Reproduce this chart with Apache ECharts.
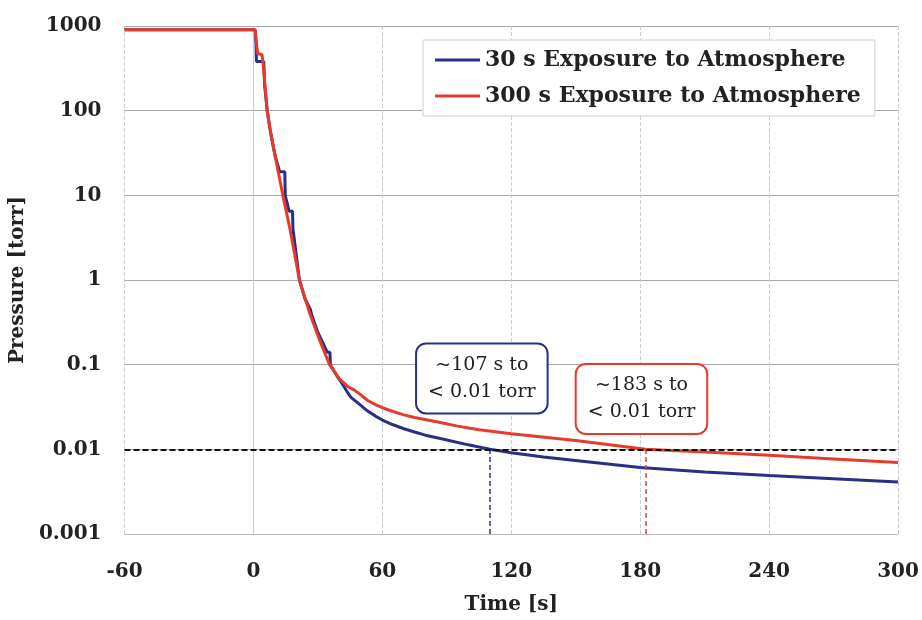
<!DOCTYPE html>
<html>
<head>
<meta charset="utf-8">
<script src="https://cdn.jsdelivr.net/npm/echarts@6/dist/echarts.min.js"></script>
<style>
  html, body { margin: 0; padding: 0; background: #fff; }
  #chart { width: 922px; height: 620px; }
</style>
</head>
<body>
<div id="chart"></div>
<script>
// Pump-down curves (time in s, pressure in torr)
const blueTime = [-60, 0.8, 1.2, 1.4, 4.8, 5.2, 6.4, 8, 10, 12.2, 13.0, 14.6, 14.8, 16.6, 18.2, 18.4, 21.4, 24, 26.5, 27.2, 30,
  34.4, 35.6, 35.8, 38, 42.2, 43.8, 45.4, 50, 53, 57, 60, 65, 70, 75, 80, 87, 100, 110, 120, 135, 152, 180, 210, 240, 270, 300];
const bluePressure = [900, 900, 600, 380, 380, 200, 100, 55, 30, 19, 19, 19, 10, 6.5, 6.5, 4, 1, 0.6, 0.45, 0.38, 0.24,
  0.14, 0.14, 0.1, 0.08, 0.055, 0.047, 0.041, 0.033, 0.0285, 0.0245, 0.0222, 0.0195, 0.0175, 0.016, 0.0147, 0.0134,
  0.0113, 0.0100, 0.0091, 0.0081, 0.0073, 0.0061, 0.0054, 0.0049, 0.0045, 0.0041];

const redTime = [-60, 0.8, 1.5, 2.0, 4.0, 4.8, 6.4, 8, 10, 13.7, 17, 21.4, 26, 30, 35.4, 40, 44, 47, 50, 53, 57, 60, 65,
  70, 75, 87, 95, 105, 120, 150, 182.5, 210, 240, 270, 300];
const redPressure = [900, 900, 600, 470, 460, 300, 100, 55, 30, 10, 4, 1, 0.42, 0.22, 0.1, 0.068, 0.055, 0.05, 0.044,
  0.038, 0.0335, 0.031, 0.028, 0.0255, 0.0238, 0.0207, 0.0188, 0.0170, 0.0153, 0.0127, 0.0100, 0.0093, 0.0085, 0.0077,
  0.0070];

const seriesNames = ['30 s Exposure to Atmosphere', '300 s Exposure to Atmosphere'];
const xTicks = [-60, 300, 60]; // min, max, interval
const yRange = [0.001, 1000];

const threshold = 0.01;
const blueCross = 110;
const redCross = 182.5;

// annotation boxes: [time, pressure] anchor + text lines
const blueNote = { at: [106.3, 0.0687], lines: ['~107 s to', '< 0.01 torr'] };
const redNote = { at: [180.6, 0.0394], lines: ['~183 s to', '< 0.01 torr'] };

const BLUE = '#2b2e85';
const RED = '#e63b2c';
const SERIF = '"DejaVu Serif", "Liberation Serif", serif';

const zip = (xs, ys) => xs.map((x, i) => [x, ys[i]]);

function noteLabel(note, color) {
  return {
    coord: note.at,
    symbol: 'rect',
    symbolSize: 1,
    itemStyle: { color: 'rgba(0,0,0,0)' },
    label: {
      show: true,
      position: 'inside',
      formatter: note.lines.join('\n'),
      fontFamily: SERIF,
      fontSize: 19,
      lineHeight: 27,
      color: '#222',
      backgroundColor: '#fff',
      borderColor: color,
      borderWidth: 2,
      borderRadius: 9,
      padding: [7, 11, 7, 11]
    }
  };
}

const chart = echarts.init(document.getElementById('chart'));

chart.setOption({
  animation: false,
  backgroundColor: '#fff',
  grid: { left: 123, right: 24, top: 26, bottom: 85 },
  legend: {
    orient: 'vertical',
    left: 423,
    top: 40,
    backgroundColor: '#fff',
    borderColor: '#cfcfcf',
    borderWidth: 1,
    padding: [7, 14, 7, 12],
    itemGap: 10,
    itemWidth: 45,
    itemHeight: 3,
    itemTextGap: 12,
    icon: 'rect',
    textStyle: { fontFamily: SERIF, fontWeight: 'bold', fontSize: 22, color: '#222', lineHeight: 26 },
    data: seriesNames
  },
  xAxis: {
    type: 'value',
    min: xTicks[0],
    max: xTicks[1],
    interval: xTicks[2],
    name: 'Time [s]',
    nameLocation: 'middle',
    nameGap: 61,
    nameTextStyle: { fontFamily: SERIF, fontWeight: 'bold', fontSize: 20, color: '#222' },
    axisLine: { lineStyle: { color: '#bbb' } },
    axisTick: { show: false },
    axisLabel: { fontFamily: SERIF, fontWeight: 'bold', fontSize: 20, color: '#222', margin: 28 },
    splitLine: { show: true, lineStyle: { color: '#c9cbd6', type: [4, 2] } }
  },
  yAxis: {
    type: 'log',
    logBase: 10,
    min: yRange[0],
    max: yRange[1],
    name: 'Pressure [torr]',
    nameLocation: 'middle',
    nameGap: 88,
    nameTextStyle: { fontFamily: SERIF, fontWeight: 'bold', fontSize: 20, color: '#222' },
    axisLine: { show: true, lineStyle: { color: '#c9cbd6' } },
    axisTick: { show: false },
    axisLabel: {
      fontFamily: SERIF, fontWeight: 'bold', fontSize: 20, color: '#222', margin: 23,
      formatter: (v) => String(parseFloat(Number(v).toPrecision(3)))
    },
    splitLine: { show: true, lineStyle: { color: '#a9a9a9' } }
  },
  series: [
    {
      name: seriesNames[0],
      type: 'line',
      data: zip(blueTime, bluePressure),
      showSymbol: false,
      lineStyle: { color: BLUE, width: 3 },
      itemStyle: { color: BLUE },
      z: 3,
      markLine: {
        silent: true,
        symbol: 'none',
        label: { show: false },
        lineStyle: { color: BLUE, type: [5, 3], width: 1.5 },
        data: [[{ coord: [blueCross, yRange[0]] }, { coord: [blueCross, threshold] }]]
      },
      markPoint: { silent: true, data: [noteLabel(blueNote, BLUE)] }
    },
    {
      name: seriesNames[1],
      type: 'line',
      data: zip(redTime, redPressure),
      showSymbol: false,
      lineStyle: { color: RED, width: 3 },
      itemStyle: { color: RED },
      z: 4,
      markLine: {
        silent: true,
        symbol: 'none',
        label: { show: false },
        lineStyle: { color: RED, type: [5, 3], width: 1.5 },
        data: [
          [{ coord: [redCross, yRange[0]] }, { coord: [redCross, threshold] }],
          [{ coord: [xTicks[0], threshold], lineStyle: { color: '#111', width: 2, type: [6, 3] } },
           { coord: [xTicks[1], threshold] }]
        ]
      },
      markPoint: { silent: true, data: [noteLabel(redNote, RED)] }
    }
  ]
});
</script>
</body>
</html>
